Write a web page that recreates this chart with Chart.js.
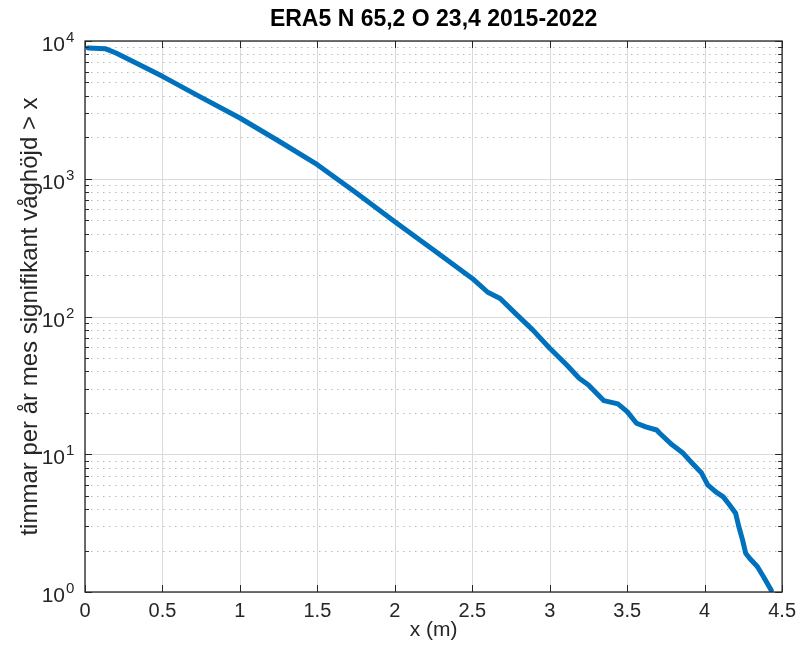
<!DOCTYPE html>
<html lang="sv">

<head>
    <meta charset="UTF-8">
    <meta name="viewport" content="width=device-width, initial-scale=1.0">
    <script src="https://cdn.jsdelivr.net/npm/chart.js"></script>
    <title>ERA5 N 65,2 O 23,4 2015-2022</title>
    <style>
        body { margin: 0; background: #fff; }
    </style>
</head>

<body>
    <canvas id="grafVaghojd" width="803" height="664"></canvas>
</body>

</html>

<script>
    // värden avlästa från kurvan
    var hojd = [0.02, 0.13, 0.2, 0.31, 0.5, 0.75, 1.0, 1.25, 1.5, 1.75, 2.0, 2.25, 2.5, 2.6, 2.68, 2.78, 2.89, 3.0,
        3.11, 3.19, 3.25, 3.35, 3.44, 3.5, 3.56, 3.62, 3.69, 3.71, 3.79, 3.86, 3.92, 3.98, 4.02, 4.07, 4.12, 4.16,
        4.2, 4.22, 4.245, 4.265, 4.29, 4.34, 4.38, 4.43];
    var timmar = [8900, 8800, 8180, 7110, 5540, 3900, 2760, 1880, 1265, 790, 488, 304, 189, 150, 135, 105, 80, 58.8,
        44.5, 35.6, 31.8, 24.5, 23.2, 20.4, 16.8, 15.8, 15.0, 14.2, 11.7, 10.2, 8.6, 7.3, 6.0, 5.35, 4.9, 4.3,
        3.73, 3.0, 2.38, 1.91, 1.76, 1.53, 1.29, 1.03];

    var xTicks = [0, 0.5, 1, 1.5, 2, 2.5, 3, 3.5, 4, 4.5];
    var yDekader = [1, 10, 100, 1000, 10000];
    var yExponent = ['0', '1', '2', '3', '4'];

    var FONT = '"Liberation Sans", Arial, Helvetica, sans-serif';
    var AXELFARG = '#262626';

    var punkter = [];
    for (var i = 0; i < hojd.length; i++) {
        punkter.push({ x: hojd[i], y: timmar[i] });
    }

    // rutnät, ram, tickmarkeringar och y-etiketter i MATLAB-stil
    var matlabAxlar = {
        id: 'matlabAxlar',
        beforeDatasetsDraw: function (chart) {
            var ctx = chart.ctx, a = chart.chartArea, x = chart.scales.x, y = chart.scales.y;
            ctx.save();
            // prickade minor-linjer
            ctx.strokeStyle = '#bcbcbc';
            ctx.lineWidth = 1;
            ctx.setLineDash([1.5, 4.5]);
            for (var d = 0; d < yDekader.length - 1; d++) {
                for (var m = 2; m <= 9; m++) {
                    var py = Math.round(y.getPixelForValue(yDekader[d] * m)) + 0.5;
                    ctx.beginPath();
                    ctx.moveTo(a.left, py);
                    ctx.lineTo(a.right, py);
                    ctx.stroke();
                }
            }
            ctx.setLineDash([]);
            ctx.strokeStyle = '#dadada';
            xTicks.forEach(function (v) {
                var px = Math.round(x.getPixelForValue(v)) + 0.5;
                ctx.beginPath();
                ctx.moveTo(px, a.top);
                ctx.lineTo(px, a.bottom);
                ctx.stroke();
            });
            yDekader.forEach(function (v) {
                var py = Math.round(y.getPixelForValue(v)) + 0.5;
                ctx.beginPath();
                ctx.moveTo(a.left, py);
                ctx.lineTo(a.right, py);
                ctx.stroke();
            });
            ctx.restore();
        },
        afterDatasetsDraw: function (chart) {
            var ctx = chart.ctx, a = chart.chartArea, x = chart.scales.x, y = chart.scales.y;
            ctx.save();
            ctx.strokeStyle = AXELFARG;
            ctx.lineWidth = 1.3;
            ctx.strokeRect(a.left, a.top, a.right - a.left, a.bottom - a.top);
            ctx.lineWidth = 1;
            ctx.beginPath();
            xTicks.forEach(function (v) {
                var px = Math.round(x.getPixelForValue(v)) + 0.5;
                ctx.moveTo(px, a.bottom);
                ctx.lineTo(px, a.bottom - 7);
                ctx.moveTo(px, a.top);
                ctx.lineTo(px, a.top + 7);
            });
            for (var d = 0; d < yDekader.length; d++) {
                for (var m = 1; m <= 9; m++) {
                    if (d == yDekader.length - 1 && m > 1) break;
                    var py = Math.round(y.getPixelForValue(yDekader[d] * m)) + 0.5;
                    var len = m == 1 ? 7 : 4;
                    ctx.moveTo(a.left, py);
                    ctx.lineTo(a.left + len, py);
                    ctx.moveTo(a.right, py);
                    ctx.lineTo(a.right - len, py);
                }
            }
            ctx.stroke();

            // 10 med exponent
            ctx.fillStyle = AXELFARG;
            ctx.textBaseline = 'alphabetic';
            yDekader.forEach(function (v, k) {
                var py = y.getPixelForValue(v);
                ctx.font = '21px ' + FONT;
                ctx.textAlign = 'right';
                ctx.fillText('10', 65, py + 10);
                ctx.font = '15px ' + FONT;
                ctx.textAlign = 'left';
                ctx.fillText(yExponent[k], 66, py + 1);
            });
            ctx.restore();
        }
    };

    var config = {
        type: 'line',
        data: {
            datasets: [{
                label: 'timmar',
                data: punkter,
                borderColor: '#0072BD',
                borderWidth: 5,
                pointRadius: 0,
                fill: false,
                tension: 0,
                borderJoinStyle: 'round',
                borderCapStyle: 'round'
            }]
        },
        options: {
            responsive: false,
            animation: false,
            locale: 'en-US',
            layout: { padding: { left: 0, right: 20, top: 0, bottom: 0 } },
            plugins: {
                legend: { display: false },
                tooltip: { enabled: false },
                title: {
                    display: true,
                    fullSize: false,
                    text: 'ERA5 N 65,2 O 23,4 2015-2022',
                    color: '#000',
                    font: { family: FONT, size: 23, weight: 'bold', lineHeight: 1.2 },
                    padding: { top: 6, bottom: 7.4 }
                }
            },
            scales: {
                x: {
                    type: 'linear',
                    min: 0,
                    max: 4.5,
                    afterBuildTicks: function (scale) {
                        scale.ticks = xTicks.map(function (v) { return { value: v }; });
                    },
                    afterFit: function (scale) { scale.height = 72; },
                    grid: { display: false, drawTicks: false },
                    border: { display: false },
                    ticks: {
                        color: AXELFARG,
                        font: { family: FONT, size: 20 },
                        padding: 7,
                        maxRotation: 0,
                        autoSkip: false,
                        callback: function (v) { return String(v); }
                    },
                    title: {
                        display: true,
                        text: 'x (m)',
                        color: AXELFARG,
                        font: { family: FONT, size: 21, lineHeight: 1.2 },
                        padding: { top: 0, bottom: 21 }
                    }
                },
                y: {
                    type: 'logarithmic',
                    min: 1,
                    max: 10000,
                    afterFit: function (scale) { scale.width = 85; },
                    grid: { display: false },
                    border: { display: false },
                    ticks: { display: false },
                    title: {
                        display: true,
                        text: 'timmar per år mes signifikant våghöjd > x',
                        color: AXELFARG,
                        font: { family: FONT, size: 24, lineHeight: 1.2 },
                        padding: { top: 16, bottom: 0 }
                    }
                }
            }
        },
        plugins: [matlabAxlar]
    };

    var graf = new Chart(document.getElementById('grafVaghojd'), config);
</script>
